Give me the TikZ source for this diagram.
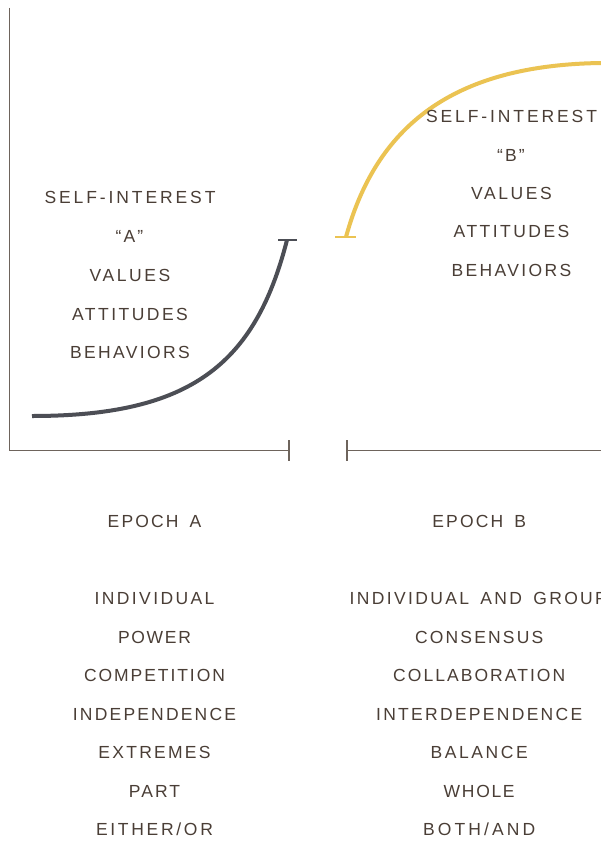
\documentclass[tikz,border=0pt]{standalone}
\usepackage{fontspec}
\newfontfamily\lblfont{Liberation Sans}
\definecolor{txt}{HTML}{4A3E36}
\definecolor{axis}{HTML}{6E645C}
\definecolor{darkc}{HTML}{4C4E55}
\definecolor{gold}{HTML}{EBC352}
\newcommand\wsp{\hspace{4pt} }
\tikzset{
  lbl/.style={font={\lblfont\fontsize{17.5}{17.5}\selectfont\addfontfeature{LetterSpace=#1}}, text=txt, inner sep=0pt, text height=12.5pt, text depth=0pt, anchor=center},
  lbl/.default=13,
  axisline/.style={draw=axis, line width=1.2pt},
  curveA/.style={draw=darkc, line width=4pt},
  curveB/.style={draw=gold, line width=4pt},
}
\begin{document}
\begin{tikzpicture}[x=1pt,y=-1pt]
\clip (0,0) rectangle (601,843);
\fill[white] (0,0) rectangle (601,843);
% axes
\coordinate (top) at (9.5,8);
\coordinate (orig) at (9.5,450.5);
\coordinate (endA) at (289,450.5);
\coordinate (startB) at (347,450.5);
\coordinate (endB) at (601,450.5);
\draw[axisline] (top) -- (orig) -- (endA);
\draw[axisline] (289,440) -- (289,461);
\draw[axisline] (347,440) -- (347,461);
\draw[axisline] (startB) -- (endB);
% curve A
\coordinate (a0) at (32,416);
\coordinate (a1) at (287,240);
\draw[curveA] (a0) .. controls (190,416) and (255,365) .. (a1);
\draw[darkc, line width=2.4pt] (278,240) -- (297,240);
% curve B
\coordinate (b0) at (346,237);
\coordinate (b1) at (601,63);
\draw[curveB] (b0) .. controls (378,120) and (460,65) .. (b1);
\draw[gold, line width=2.4pt] (335,237) -- (356,237);
% left labels
\node[lbl=16.6] (la1) at (130,197.5) {SELF-INTEREST};
\node[lbl=12] (la2) at (129.5,236.3) {“A”};
\node[lbl=14.8] (la3) at (130,275.1) {VALUES};
\node[lbl=14.1] (la4) at (130,313.9) {ATTITUDES};
\node[lbl=13.5] (la5) at (130,352.7) {BEHAVIORS};
% right labels
\node[lbl=16.6] (lb1) at (511.5,116.5) {SELF-INTEREST};
\node[lbl=12] (lb2) at (511,154.9) {“B”};
\node[lbl=14.8] (lb3) at (511.5,193.3) {VALUES};
\node[lbl=14.1] (lb4) at (511.5,231.7) {ATTITUDES};
\node[lbl=13.5] (lb5) at (511.5,270.1) {BEHAVIORS};
% epochs
\node[lbl=12.5] (ea) at (154.5,521.3) {EPOCH\wsp A};
\node[lbl=12.5] (eb) at (479.2,521.3) {EPOCH\wsp B};
% lists
\node[lbl=13.8] (l1) at (154.5,598.3) {INDIVIDUAL};
\node[lbl=9.7] (l2) at (154.5,636.8) {POWER};
\node[lbl=11.1] (l3) at (154.5,675.3) {COMPETITION};
\node[lbl=12.5] (l4) at (154.5,713.8) {INDEPENDENCE};
\node[lbl=12.9] (l5) at (154.5,752.3) {EXTREMES};
\node[lbl=12] (l6) at (154.5,790.8) {PART};
\node[lbl=15.4] (l7) at (154.5,829.3) {EITHER/OR};
\node[lbl=13.5,anchor=west] (r1) at (349.5,598.3) {INDIVIDUAL\wsp AND\wsp GROUP};
\node[lbl=12.3] (r2) at (479.2,636.8) {CONSENSUS};
\node[lbl=11.7] (r3) at (479.2,675.3) {COLLABORATION};
\node[lbl=13.1] (r4) at (479.2,713.8) {INTERDEPENDENCE};
\node[lbl=14.6] (r5) at (479.2,752.3) {BALANCE};
\node[lbl=9.7] (r6) at (479.2,790.8) {WHOLE};
\node[lbl=17.7] (r7) at (479.2,829.3) {BOTH/AND};
\end{tikzpicture}
\end{document}
